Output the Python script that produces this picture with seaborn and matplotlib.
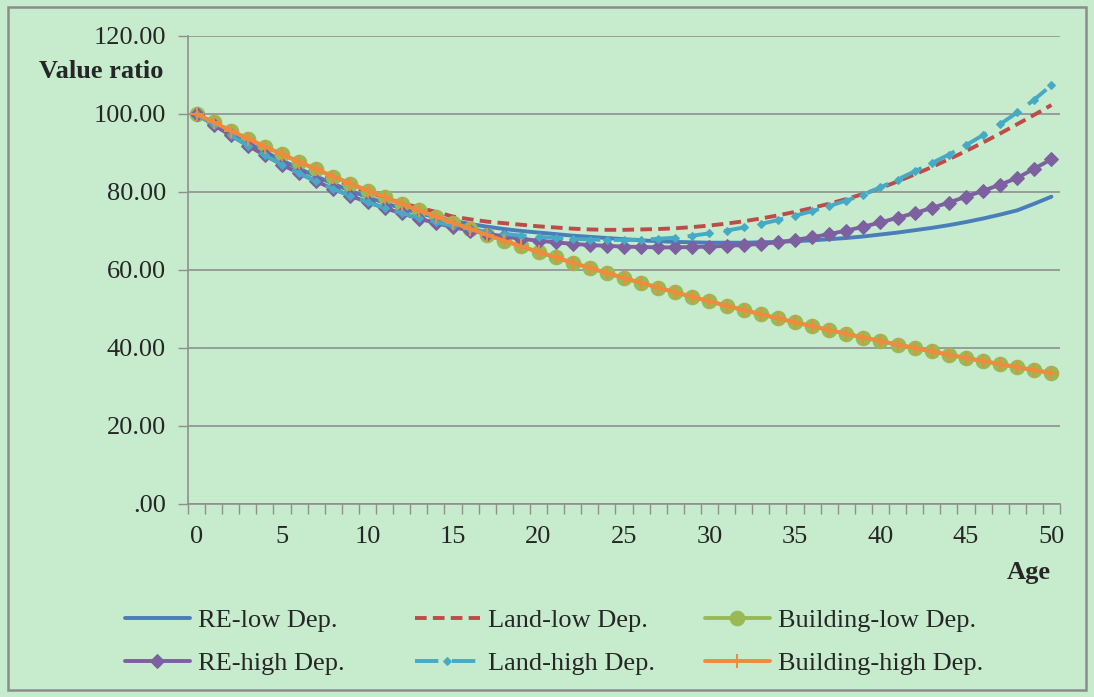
import numpy as np
import pandas as pd
import matplotlib
matplotlib.use("Agg")
import matplotlib.pyplot as plt
import seaborn as sns
from matplotlib.patches import Rectangle

ages = list(range(0, 51))

re_low = [100, 97.5, 95.0, 92.6, 90.3, 88.1, 86.0, 84.0, 82.1, 80.3,
          78.7, 77.2, 75.8, 74.6, 73.5, 72.6, 71.8, 71.1, 70.5, 70.0,
          69.6, 69.2, 68.8, 68.5, 68.2, 67.9, 67.6, 67.4, 67.2, 67.1,
          67.0, 67.0, 67.0, 67.1, 67.2, 67.4, 67.6, 67.9, 68.2, 68.6,
          69.1, 69.6, 70.2, 70.8, 71.5, 72.3, 73.2, 74.2, 75.3, 77.0, 78.8]

land_low = [100, 97.7, 95.4, 93.2, 91.0, 89.0, 87.0, 85.1, 83.3, 81.6,
            80.0, 78.5, 77.2, 76.0, 74.9, 73.7, 73.0, 72.4, 72.0, 71.6,
            71.2, 70.9, 70.6, 70.4, 70.3, 70.3, 70.4, 70.5, 70.7, 71.0,
            71.4, 71.9, 72.5, 73.2, 74.0, 74.9, 75.9, 77.0, 78.2, 79.5,
            81.0, 82.7, 84.5, 86.4, 88.4, 90.5, 92.7, 95.0, 97.4, 99.8, 102.3]

building_low = [100, 97.84, 95.73, 93.66, 91.64, 89.66, 87.72, 85.83, 83.97, 82.16,
                80.38, 78.65, 76.95, 75.29, 73.66, 72.07, 70.52, 68.99, 67.50, 66.05,
                64.62, 63.23, 61.86, 60.53, 59.22, 57.94, 56.69, 55.47, 54.27, 53.10,
                51.95, 50.83, 49.74, 48.66, 47.61, 46.59, 45.58, 44.60, 43.64, 42.69,
                41.77, 40.87, 39.99, 39.12, 38.28, 37.45, 36.65, 35.86, 35.08, 34.33, 33.59]

re_high = [100, 97.2, 94.5, 91.9, 89.4, 87.0, 84.8, 82.7, 80.8, 79.0,
           77.4, 75.9, 74.5, 73.2, 72.0, 71.0, 70.1, 69.3, 68.6, 68.0,
           67.5, 67.1, 66.7, 66.4, 66.2, 66.0, 65.9, 65.8, 65.8, 65.9,
           66.0, 66.2, 66.4, 66.7, 67.1, 67.7, 68.4, 69.2, 70.1, 71.1,
           72.2, 73.4, 74.6, 75.9, 77.3, 78.8, 80.3, 81.9, 83.6, 86.0, 88.4]

land_high = [100, 97.2, 94.5, 91.9, 89.4, 87.0, 84.8, 82.7, 80.8, 79.0,
             77.4, 75.9, 74.6, 73.4, 72.3, 71.3, 70.5, 69.8, 69.3, 68.8,
             68.5, 68.2, 68.0, 67.8, 67.7, 67.7, 67.8, 68.0, 68.3, 68.8,
             69.4, 70.1, 70.9, 71.8, 72.8, 73.9, 75.1, 76.4, 77.8, 79.3,
             81.2, 83.2, 85.3, 87.4, 89.6, 92.0, 94.6, 97.4, 100.4, 103.7, 107.4]

building_high = list(building_low)

series_names = ["RE-low Dep.", "Land-low Dep.", "Building-low Dep.",
                "RE-high Dep.", "Land-high Dep.", "Building-high Dep."]
series_values = [re_low, land_low, building_low, re_high, land_high, building_high]

y_ticks = [0, 20, 40, 60, 80, 100, 120]
y_tick_labels = [".00", "20.00", "40.00", "60.00", "80.00", "100.00", "120.00"]
x_ticks = [0, 5, 10, 15, 20, 25, 30, 35, 40, 45, 50]

sns.set_style("white")
plt.rcParams["font.family"] = ["Liberation Serif", "DejaVu Serif"]

BG = "#C7ECCD"
GRID = "#8F8F8F"
FS = 19

fig = plt.figure(figsize=(10.94, 6.97), dpi=100, facecolor=BG)
ax = fig.add_axes([188 / 1094, 1 - 504 / 697, (1060 - 188) / 1094, (504 - 36) / 697])
ax.set_facecolor(BG)

colors = ["#4A7EBB", "#BE4B48", "#98B954", "#7D60A0", "#46AAC5", "#F08A3C"]
styles = [
    dict(linestyle="-", lw=2.8),
    dict(linestyle=(0, (3, 1.6)), lw=2.8),
    dict(linestyle="-", lw=2.8, marker="o", markersize=10.5),
    dict(linestyle="-", lw=2.8, marker="D", markersize=7),
    dict(linestyle=(0, (6, 3.5)), lw=2.8, marker="D", markersize=4),
    dict(linestyle="-", lw=2.8, marker="+", markersize=10, markeredgewidth=1.5),
]

df = pd.DataFrame({"age": ages})
handles = []
for i, (name, vals, st, c) in enumerate(zip(series_names, series_values, styles, colors)):
    df[name] = vals
    sns.lineplot(data=df, x="age", y=name, ax=ax, label=name, zorder=3 + i,
                 color=c, markeredgecolor=c, markerfacecolor=c, **st)
    handles.append(ax.lines[-1])

if ax.legend_ is not None:
    ax.legend_.remove()

ax.set_xlim(-0.5, 50.5)
ax.set_ylim(0, 120)
ax.set_yticks(y_ticks)
ax.set_yticklabels(y_tick_labels)
ax.set_xticks(x_ticks)
ax.set_xticklabels([str(v) for v in x_ticks])
ax.set_xticks(np.arange(-0.5, 51, 1), minor=True)
ax.tick_params(axis="x", which="major", length=0, pad=16, labelsize=FS)
ax.tick_params(axis="x", which="minor", length=7, width=1, color=GRID, direction="out", bottom=True)
ax.tick_params(axis="y", which="major", length=7, width=1, color=GRID, direction="out", left=True, labelsize=FS, pad=9)
ax.set_xlabel("")
ax.set_ylabel("")
for s in ["top", "right"]:
    ax.spines[s].set_visible(False)
for s in ["left", "bottom"]:
    ax.spines[s].set_color(GRID)
    ax.spines[s].set_linewidth(1.2)
ax.yaxis.grid(True, color=GRID, linewidth=1.2)
ax.set_axisbelow(True)

fig.text(101 / 1094, 1 - 71 / 697, "Value ratio", ha="center", va="center",
         fontsize=FS, fontweight="bold")
fig.text(1029 / 1094, 1 - 572 / 697, "Age", ha="center", va="center",
         fontsize=FS, fontweight="bold")

col_x = [125, 415, 705]
col_items = [[0, 3], [1, 4], [2, 5]]
for cx, items in zip(col_x, col_items):
    lg = fig.legend([handles[i] for i in items], [series_names[i] for i in items],
                    loc="center left", bbox_to_anchor=(cx / 1094, 1 - 642 / 697),
                    frameon=False, fontsize=FS, handlelength=2.45, handletextpad=0.3,
                    borderpad=0, borderaxespad=0, labelspacing=0.75)

fig.patches.append(Rectangle((8 / 1094, 7 / 697), 1 - 16 / 1094, 1 - 14 / 697,
                             transform=fig.transFigure, fill=False,
                             edgecolor="#8C8C8C", linewidth=1.8))

fig.savefig("out.png", dpi=100, facecolor=BG)
